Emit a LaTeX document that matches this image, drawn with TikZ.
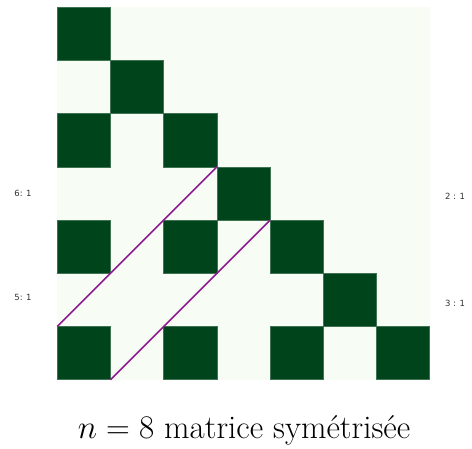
\documentclass[tikz,border=0pt]{standalone}
\usepackage{fix-cm}
\usepackage{fontspec}
\newfontfamily\ticklabelfont{DejaVu Sans}
\usetikzlibrary{positioning}
\definecolor{greenLight}{HTML}{F7FCF5}
\definecolor{greenDark}{HTML}{00441B}
\definecolor{pathPurple}{HTML}{8E1B8E}
\definecolor{tickGray}{HTML}{333333}

\begin{document}
\begin{tikzpicture}[x=1pt, y=-1pt,
    cell/.style={rectangle, minimum size=53.2pt, inner sep=0pt, outer sep=0pt,
                 fill=greenLight},
    dark/.style={rectangle, minimum size=53.2pt, inner sep=0pt, outer sep=0pt,
                 fill=greenDark, draw=greenDark!75!white, line width=0.5pt},
    tick/.style={font=\ticklabelfont\fontsize{8.5}{10}\selectfont, text=tickGray},
    diag/.style={draw=pathPurple, line width=1.6pt},
  ]
    \useasboundingbox (0,0) rectangle (472,449);
    % light background of the matrix
    \foreach \r in {0,...,6}
      \foreach \c in {0,...,6}
        \node[cell] (c\r\c) at (83.9+53.2*\c, 33.9+53.2*\r) {};
    % filled entries
    \foreach \r/\c in {0/0, 1/1, 2/0, 2/2, 3/3, 4/0, 4/2, 4/4, 5/5,
                       6/0, 6/2, 6/4, 6/6}
      \node[dark] at (c\r\c) {};

    \draw[diag] (c60.north west) -- (c33.north west);
    \draw[diag] (c61.south west) -- (c44.north west);

    \node[tick] (l61) at (23,193) {6: 1};
    \node[tick] (l51) at (23,297) {5: 1};
    \node[tick] (l21) at (455,196) {2 : 1};
    \node[tick] (l31) at (455,303) {3 : 1};

    \node[font=\fontsize{33}{40}\selectfont] (caption) at (244,430)
      {$n=8$ matrice symétrisée};
  \end{tikzpicture}
\end{document}
